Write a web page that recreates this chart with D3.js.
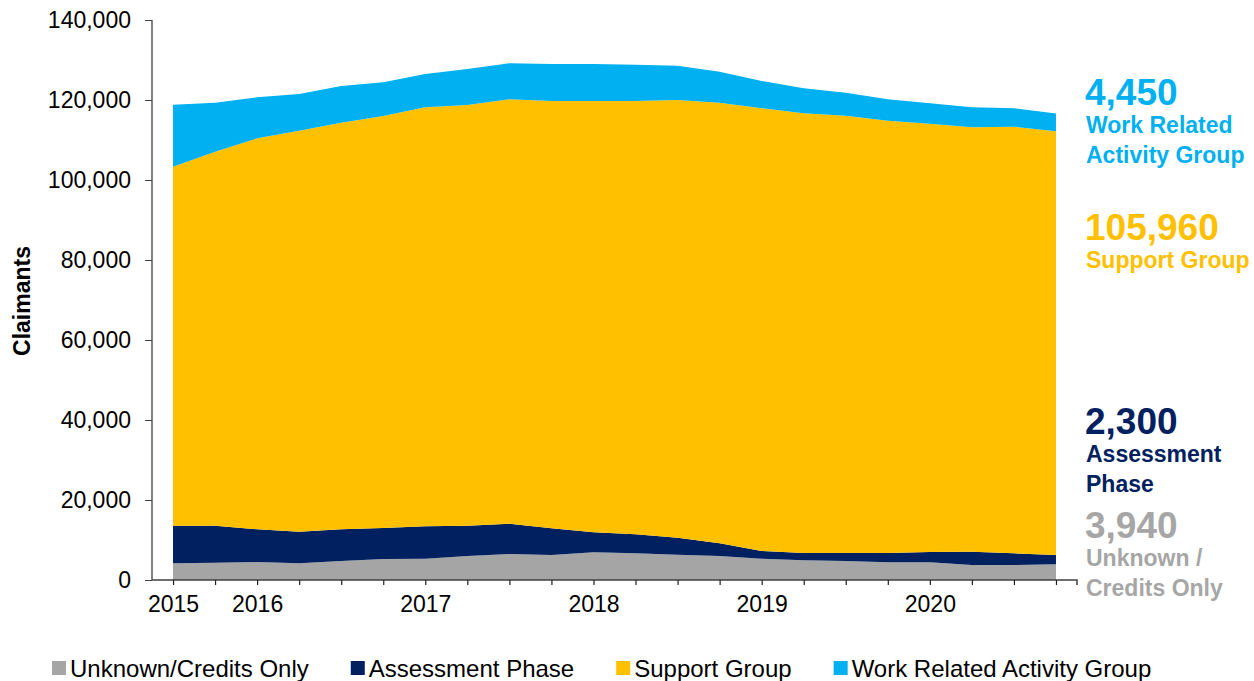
<!DOCTYPE html>
<html>
<head>
<meta charset="utf-8">
<script src="https://cdn.jsdelivr.net/npm/d3@7"></script>
<style>
  html, body { margin: 0; padding: 0; background: #fff; }
  svg { display: block; font-family: Arial, "Liberation Sans", sans-serif; }
</style>
</head>
<body>
<svg id="chart" width="1254" height="681"></svg>
<script>
// quarterly snapshots, Aug 2015 .. Nov 2020
const quarters = [
  "Aug 2015", "Nov 2015",
  "Feb 2016", "May 2016", "Aug 2016", "Nov 2016",
  "Feb 2017", "May 2017", "Aug 2017", "Nov 2017",
  "Feb 2018", "May 2018", "Aug 2018", "Nov 2018",
  "Feb 2019", "May 2019", "Aug 2019", "Nov 2019",
  "Feb 2020", "May 2020", "Aug 2020", "Nov 2020"
];
const xTickLabels = [
  "2015", "", "2016", "", "", "", "2017", "", "", "",
  "2018", "", "", "", "2019", "", "", "", "2020", "", "", ""
];
const yTicks = [0, 20000, 40000, 60000, 80000, 100000, 120000, 140000];

const unknownCredits = [4170, 4330, 4500, 4170, 4750, 5250, 5330, 6000, 6500, 6250, 6920,
                        6670, 6330, 6000, 5330, 4920, 4750, 4420, 4420, 3750, 3750, 3940];
const assessment     = [9410, 9250, 8170, 7910, 7920, 7750, 8090, 7580, 7580, 6670, 5000,
                        4750, 4250, 3170, 1920, 1830, 2000, 2330, 2580, 3330, 2920, 2300];
const supportGroup   = [89750, 93500, 97750, 100250, 101660, 103000, 104750, 105170, 106090, 106830, 107830,
                        108330, 109420, 110160, 110670, 109920, 109330, 108080, 107080, 106090, 106660, 105960];
const workRelated    = [15500, 12250, 10250, 9170, 9170, 8420, 8330, 9000, 9000, 9250, 9250,
                        9080, 8580, 7750, 6830, 6250, 5750, 5340, 5090, 5000, 4590, 4450];

const seriesKeys   = ["unknown", "assessment", "support", "wrag"];
const legendNames  = ["Unknown/Credits Only", "Assessment Phase", "Support Group", "Work Related Activity Group"];
const colors       = ["#A5A5A5", "#002060", "#FFC000", "#00B0F0"];
const endValues    = ["3,940", "2,300", "105,960", "4,450"];
const endNames     = [["Unknown /", "Credits Only"], ["Assessment", "Phase"], ["Support Group"], ["Work Related", "Activity Group"]];

const rows = quarters.map((q, i) => ({
  q,
  unknown: unknownCredits[i],
  assessment: assessment[i],
  support: supportGroup[i],
  wrag: workRelated[i]
}));

const svg = d3.select("#chart");
const plotLeft = 152, plotRight = 1077, plotTop = 20, plotBottom = 580;

const x = d3.scalePoint().domain(quarters).range([plotLeft, plotRight]).padding(0.5);
const y = d3.scaleLinear().domain([0, 140000]).range([plotBottom, plotTop]);

const stacked = d3.stack().keys(seriesKeys)(rows);

const area = d3.area()
  .x(d => x(d.data.q))
  .y0(d => y(d[0]))
  .y1(d => y(d[1]));

svg.append("g")
  .selectAll("path")
  .data(stacked)
  .join("path")
  .attr("d", area)
  .attr("fill", (d, i) => colors[i]);

// y axis
const yAxis = svg.append("g")
  .attr("transform", `translate(${plotLeft},0)`)
  .call(d3.axisLeft(y).tickValues(yTicks).tickSize(7).tickPadding(14)
    .tickFormat(d3.format(",")));
yAxis.select(".domain").attr("stroke", "#595959").attr("stroke-width", 1.5).attr("d", `M0,${plotTop}V${plotBottom}`);
yAxis.selectAll(".tick line").attr("stroke", "#404040");
yAxis.selectAll("text").attr("font-size", 23).attr("fill", "#000").attr("font-family", "Arial, 'Liberation Sans', sans-serif");

// x axis
const xAxis = svg.append("g")
  .attr("transform", `translate(0,${plotBottom})`)
  .call(d3.axisBottom(x).tickSize(5).tickPadding(11)
    .tickFormat((d, i) => xTickLabels[i]));
xAxis.select(".domain").attr("stroke", "#404040").attr("stroke-width", 1.5).attr("d", `M${plotLeft},0H${plotRight}V5`);
xAxis.selectAll(".tick line").attr("stroke", "#202020").attr("stroke-width", 1.2);
xAxis.selectAll("text").attr("font-size", 23).attr("fill", "#000").attr("font-family", "Arial, 'Liberation Sans', sans-serif");

svg.append("text")
  .attr("transform", "translate(30,301) rotate(-90)")
  .attr("text-anchor", "middle")
  .attr("font-size", 23)
  .attr("font-weight", "bold")
  .text("Claimants");

// end-of-series labels on the right
const endBlocks = [
  { i: 3, base: 105 },
  { i: 2, base: 240 },
  { i: 1, base: 434 },
  { i: 0, base: 538 }
];
const labelColors = ["#A6A6A6", "#002060", "#FFC000", "#00B0F0"];
endBlocks.forEach(b => {
  const g = svg.append("g").attr("fill", labelColors[b.i]).attr("font-weight", "bold");
  g.append("text").attr("x", 1085).attr("y", b.base).attr("font-size", 37).text(endValues[b.i]);
  endNames[b.i].forEach((line, k) => {
    g.append("text").attr("x", 1086).attr("y", b.base + 28 + k * 30).attr("font-size", 23).text(line);
  });
});

// legend
const legend = svg.append("g").attr("transform", "translate(52,0)");
let lx = 0;
legendNames.forEach((name, i) => {
  legend.append("rect").attr("x", lx).attr("y", 661).attr("width", 14).attr("height", 14).attr("fill", colors[i]);
  const t = legend.append("text").attr("x", lx + 18).attr("y", 677).attr("font-size", 24).text(name);
  lx += 18 + t.node().getComputedTextLength() + 42;
});
</script>
</body>
</html>
